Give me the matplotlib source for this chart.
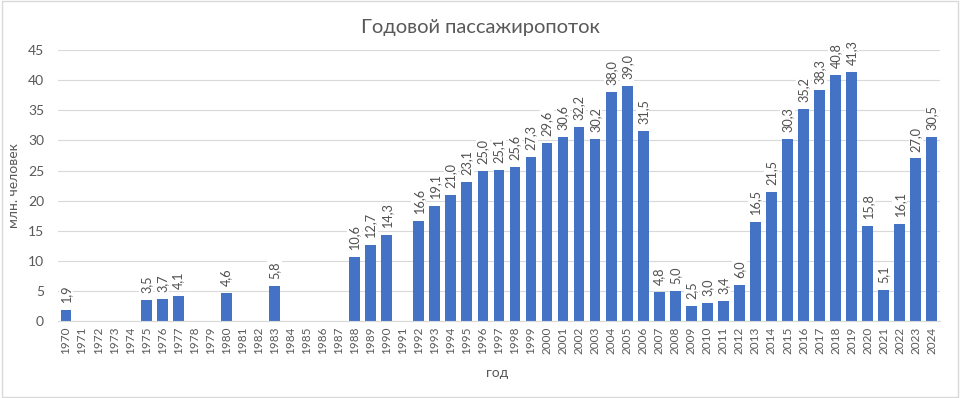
import numpy as np
import matplotlib
matplotlib.use("Agg")
import matplotlib.pyplot as plt
import matplotlib.patches as patches

plt.rcParams['font.family'] = ['Lato', 'DejaVu Sans']

years = list(range(1970, 2025))
# values by year, None where no data
vals = {
  1970: 1.9, 1975: 3.5, 1976: 3.7, 1977: 4.1, 1980: 4.6, 1983: 5.8,
  1988: 10.6, 1989: 12.7, 1990: 14.3, 1992: 16.6, 1993: 19.1, 1994: 21.0,
  1995: 23.1, 1996: 25.0, 1997: 25.1, 1998: 25.6, 1999: 27.3, 2000: 29.6,
  2001: 30.6, 2002: 32.2, 2003: 30.2, 2004: 38.0, 2005: 39.0, 2006: 31.5,
  2007: 4.8, 2008: 5.0, 2009: 2.5, 2010: 3.0, 2011: 3.4, 2012: 6.0,
  2013: 16.5, 2014: 21.5, 2015: 30.3, 2016: 35.2, 2017: 38.3, 2018: 40.8,
  2019: 41.3, 2020: 15.8, 2021: 5.1, 2022: 16.1, 2023: 27.0, 2024: 30.5,
}
title = "Годовой пассажиропоток"
ylabel = "млн. человек"
xlabel = "год"

grey = "#595959"
barc = "#4472C4"

fig = plt.figure(figsize=(9.6, 3.98), dpi=100)
ax = fig.add_axes([0.0604, 0.1935, 0.9186, 0.6805])

x = np.arange(len(years))
h = [vals.get(y, 0) for y in years]
ax.bar(x, h, width=0.67, color=barc, zorder=2)

for i, y in enumerate(years):
  if y in vals:
    v = vals[y]
    ax.annotate(("%.1f" % v).replace(".", ","), (i, v), xytext=(0, 5),
                textcoords="offset points", rotation=90, ha="center", va="bottom",
                fontsize=9.2, color="#505050", zorder=3,
                bbox=dict(boxstyle="square,pad=0.1", fc="white", ec="none"))

ax.set_xlim(-0.5, len(years) - 0.5)
ax.set_ylim(0, 45)
ax.set_yticks(range(0, 46, 5))
ax.set_xticks(x)
ax.set_xticklabels([str(y) for y in years], rotation=90, fontsize=8.5, color=grey)
ax.tick_params(axis="y", labelsize=10, labelcolor=grey, length=0, pad=10)
ax.tick_params(axis="x", length=0, pad=4)
ax.grid(axis="y", color="#d9d9d9", lw=0.8, zorder=0)
for s in ["top", "right", "left"]:
  ax.spines[s].set_visible(False)
ax.spines["bottom"].set_color("#d9d9d9")

ax.set_ylabel(ylabel, fontsize=10, color=grey, labelpad=6)
fig.text(0.518, 0.063, xlabel, fontsize=10, color=grey, ha="center", va="center")
fig.text(0.5, 0.93, title, fontsize=14.5, color=grey, ha="center", va="center")

fig.add_artist(patches.Rectangle((0.002, 0.003), 0.996, 0.994, transform=fig.transFigure,
                                 fill=False, ec="#d9d9d9", lw=1))

plt.savefig("out.png", dpi=100)
